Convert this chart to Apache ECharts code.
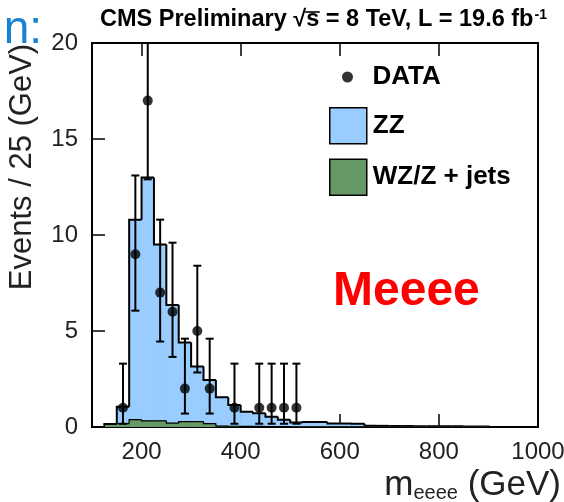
<!DOCTYPE html>
<html>
<head>
<meta charset="utf-8">
<script src="https://cdn.jsdelivr.net/npm/echarts@6/dist/echarts.min.js"></script>
<style>
  html, body { margin: 0; padding: 0; background: #ffffff; }
  #chart { width: 564px; height: 502px; }
</style>
</head>
<body>
<div id="chart"></div>
<script>
// Four-electron invariant mass, 25 GeV bins
const binWidth = 25;
const binLow = [125, 150, 175, 200, 225, 250, 275, 300, 325, 350, 375, 400, 425, 450, 475,
                500, 525, 550, 575, 600, 625, 650, 675, 700, 725, 750, 775, 800, 825, 850, 875];
// expected events per bin
const zzEvents = [0.02, 0.87, 10.42, 12.68, 9.18, 6.15, 4.12, 2.87, 2.27, 1.50, 1.11, 0.77, 0.69, 0.52, 0.36,
                  0.22, 0.25, 0.25, 0.17, 0.17, 0.16, 0.05, 0.05, 0.04, 0.04, 0.03, 0.03, 0.03, 0.03, 0.02, 0.02];
const wzEvents = [0.13, 0.18, 0.38, 0.32, 0.32, 0.20, 0.28, 0.28, 0.18, 0.05, 0.04, 0.03, 0.03, 0.02, 0.02,
                  0.01, 0.01, 0.01, 0.01, 0.01, 0.01, 0.01, 0.01, 0.01, 0.01, 0.01, 0.01, 0.01, 0.01, 0.01, 0.01];
// observed events with their 68% intervals
const dataMass   = [162.5, 187.5, 212.5, 237.5, 262.5, 287.5, 312.5, 337.5, 387.5, 437.5, 462.5, 487.5, 512.5];
const dataEvents = [1, 9, 17, 7, 6, 2, 5, 2, 1, 1, 1, 1, 1];
const dataLow    = [0.17, 6.06, 12.9, 4.45, 3.65, 0.7, 2.84, 0.7, 0.17, 0.17, 0.17, 0.17, 0.17];
const dataHigh   = [3.3, 13.1, 22.2, 10.8, 9.6, 4.6, 8.4, 4.6, 3.3, 3.3, 3.3, 3.3, 3.3];
const massTicks  = [200, 400, 600, 800, 1000];

const FONT = '"Liberation Sans", Arial, Helvetica, sans-serif';
const ZZ_COLOR = '#99ccff';
const WZ_COLOR = '#669966';

const TITLE_FONT = 'bold 23.5px ' + FONT;
const TITLE_X = 100, TITLE_Y = 8;

const totals = binLow.map((_, i) => zzEvents[i] + wzEvents[i]);

function textWidth(str, font) {
  return new echarts.graphic.Text({ style: { text: str, font: font } }).getBoundingRect().width;
}
// bar over the "s" under the square root
const rootStart = TITLE_X + textWidth('CMS Preliminary √', TITLE_FONT);
const rootEnd = rootStart + textWidth('s', TITLE_FONT);

// fill rectangles between two stacked levels
function fillItem(lower, upper) {
  return function (params, api) {
    const lo = api.value(0);
    const i = params.dataIndex;
    const p0 = api.coord([lo, lower[i]]);
    const p1 = api.coord([lo + binWidth, upper[i]]);
    const c = api.visual('color');
    return {
      type: 'rect',
      shape: { x: p0[0], y: p1[1], width: p1[0] - p0[0], height: p0[1] - p1[1] },
      style: { fill: c, stroke: c, lineWidth: 0.8 }
    };
  };
}

// step outline: top edge of each bin plus the riser from the previous bin
function outlineItem(heights, width) {
  return function (params, api) {
    const i = params.dataIndex;
    const lo = binLow[i];
    const prev = i === 0 ? 0 : heights[i - 1];
    const a = api.coord([lo, prev]);
    const b = api.coord([lo, heights[i]]);
    const c = api.coord([lo + binWidth, heights[i]]);
    const pts = [a, b, c];
    if (i === binLow.length - 1) pts.push(api.coord([lo + binWidth, 0]));
    return {
      type: 'polyline',
      shape: { points: pts },
      style: { stroke: '#000', lineWidth: width, fill: null }
    };
  };
}

const chart = echarts.init(document.getElementById('chart'), null, { renderer: 'canvas' });

chart.setOption({
  animation: false,
  backgroundColor: '#ffffff',
  grid: { left: 92, right: 26, top: 43, bottom: 75, show: true, borderColor: '#000', borderWidth: 2, backgroundColor: 'transparent', containLabel: false, outerBoundsMode: 'none' },
  legend: [
    {
      data: [{ name: 'DATA', icon: 'circle' }],
      left: 342, top: 64, padding: 0, itemWidth: 40, itemHeight: 11,
      textStyle: { fontFamily: FONT, fontWeight: 'bold', fontSize: 26, color: '#000' },
      selectedMode: false
    },
    {
      data: [{ name: 'ZZ', icon: 'rect' }, { name: 'WZ/Z + jets', icon: 'rect' }],
      orient: 'vertical', left: 329, top: 107, padding: 0, itemWidth: 37, itemHeight: 36, itemGap: 14,
      itemStyle: { borderColor: '#000', borderWidth: 1.5 },
      textStyle: { fontFamily: FONT, fontWeight: 'bold', fontSize: 26, color: '#000', padding: [0, 0, 0, 1] },
      selectedMode: false
    }
  ],
  xAxis: [
    {
      type: 'value', min: 100, max: 1000, position: 'bottom',
      axisLine: { show: false },
      splitLine: { show: false },
      axisTick: { inside: true, length: 13, lineStyle: { color: '#000', width: 1.5 }, customValues: massTicks },
      axisLabel: { customValues: massTicks, margin: 13, fontFamily: FONT, fontSize: 24, color: '#222', formatter: v => String(v) }
    },
    {
      type: 'value', min: 100, max: 1000, position: 'top',
      axisLine: { show: false },
      splitLine: { show: false },
      axisTick: { inside: true, length: 13, lineStyle: { color: '#000', width: 1.5 }, customValues: massTicks },
      axisLabel: { show: false }
    }
  ],
  yAxis: {
    type: 'value', min: 0, max: 20, interval: 5,
    axisLine: { show: false },
    splitLine: { show: false },
    axisTick: { inside: true, length: 13, lineStyle: { color: '#000', width: 1.5 } },
    axisLabel: { margin: 14, fontFamily: FONT, fontSize: 24, color: '#222' }
  },
  graphic: [
    {
      type: 'text', x: 42, y: 53,
      style: { text: 'n:', font: '46px ' + FONT, fill: '#1682d2', textAlign: 'right', textVerticalAlign: 'bottom' }
    },
    {
      type: 'text', x: TITLE_X, y: TITLE_Y,
      style: {
        text: 'CMS Preliminary √s = 8 TeV, L = 19.6 fb{sup|-1}',
        font: TITLE_FONT, fill: '#000',
        rich: { sup: { fontFamily: FONT, fontWeight: 'bold', fontSize: 14, fill: '#000', verticalAlign: 'top', padding: [0, 0, 10, 1] } }
      }
    },
    {
      type: 'line',
      shape: { x1: rootStart - 1, y1: TITLE_Y + 4, x2: rootEnd + 0.5, y2: TITLE_Y + 4 },
      style: { stroke: '#000', lineWidth: 1.6 }
    },
    {
      type: 'text', x: 22, y: 167, rotation: Math.PI / 2,
      style: { text: 'Events / 25 (GeV)', font: '31px ' + FONT, fill: '#222', textAlign: 'center', textVerticalAlign: 'middle' }
    },
    {
      type: 'text', right: 3, top: 468,
      style: {
        text: '{m|m}{s|eeee}{m| (GeV)}',
        rich: {
          m: { fontFamily: FONT, fontSize: 35, fill: '#222', lineHeight: 36 },
          s: { fontFamily: FONT, fontSize: 20, fill: '#222', lineHeight: 16, verticalAlign: 'bottom' }
        }
      }
    },
    {
      type: 'text', left: 333, top: 268,
      style: { text: 'Meeee', font: 'bold 48px ' + FONT, fill: '#ff0000' }
    }
  ],
  series: [
    {
      name: 'ZZ', type: 'custom', xAxisIndex: 0, z: 2,
      itemStyle: { color: ZZ_COLOR },
      renderItem: fillItem(binLow.map(() => 0), totals),
      data: binLow.map(v => [v]),
      clip: true
    },
    {
      name: 'ZZ outline', type: 'custom', xAxisIndex: 0, z: 3,
      renderItem: outlineItem(totals, 2),
      data: binLow.map(v => [v]),
      clip: true
    },
    {
      name: 'WZ/Z + jets', type: 'custom', xAxisIndex: 0, z: 4,
      itemStyle: { color: WZ_COLOR },
      renderItem: fillItem(binLow.map(() => 0), wzEvents),
      data: binLow.map(v => [v]),
      clip: true
    },
    {
      name: 'WZ outline', type: 'custom', xAxisIndex: 0, z: 5,
      renderItem: outlineItem(wzEvents, 1.2),
      data: binLow.map(v => [v]),
      clip: true
    },
    {
      name: 'DATA errors', type: 'custom', xAxisIndex: 0, z: 6,
      renderItem: function (params, api) {
        const x = api.value(0);
        const lo = api.coord([x, api.value(1)]);
        const hi = api.coord([x, api.value(2)]);
        const cap = 4;
        return {
          type: 'group',
          children: [
            { type: 'line', shape: { x1: lo[0], y1: lo[1], x2: hi[0], y2: hi[1] }, style: { stroke: '#000', lineWidth: 2 } },
            { type: 'line', shape: { x1: lo[0] - cap, y1: lo[1], x2: lo[0] + cap, y2: lo[1] }, style: { stroke: '#000', lineWidth: 2 } },
            { type: 'line', shape: { x1: hi[0] - cap, y1: hi[1], x2: hi[0] + cap, y2: hi[1] }, style: { stroke: '#000', lineWidth: 2 } }
          ]
        };
      },
      data: dataMass.map((m, i) => [m, dataLow[i], dataHigh[i]]),
      clip: true
    },
    {
      name: 'DATA', type: 'scatter', xAxisIndex: 0, z: 7,
      symbol: 'circle', symbolSize: 10,
      itemStyle: { color: '#000' },
      data: dataMass.map((m, i) => [m, dataEvents[i]])
    }
  ]
});
</script>
</body>
</html>
